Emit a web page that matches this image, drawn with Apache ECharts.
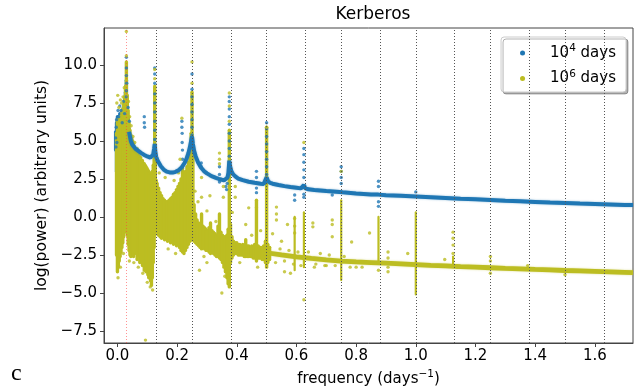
<!DOCTYPE html>
<html>
<head>
<meta charset="utf-8">
<script src="https://cdn.jsdelivr.net/npm/echarts@6/dist/echarts.min.js"></script>
<style>
  html, body { margin: 0; padding: 0; background: #fff; }
  #chart { width: 635px; height: 391px; }
</style>
</head>
<body>
<div id="chart"></div>
<script>
// Periodogram of the Kerberos orbit: log power versus frequency for two integration spans.

const xTicks = [0.0, 0.2, 0.4, 0.6, 0.8, 1.0, 1.2, 1.4, 1.6];
const yTicks = [-7.5, -5.0, -2.5, 0.0, 2.5, 5.0, 7.5, 10.0];
const harmonicLines = [0.125, 0.25, 0.375, 0.5, 0.625, 0.75, 0.875, 1.0, 1.125, 1.25, 1.375, 1.5, 1.625];
const referenceLine = [0.0303];

const seriesNames = ['10^4 days', '10^6 days'];

// 10^4 days: spread of the dense low-frequency cloud [freq, low, high]
const shortSpread = [
  [-0.006, 4.4, 5.6], [-0.003, 3.0, 6.2], [0.000, 0.5, 6.6], [0.004, 0.5, 6.4],
  [0.008, 0.8, 6.8], [0.012, 1.0, 6.6], [0.016, 1.2, 7.0], [0.020, 1.4, 7.2],
  [0.024, 1.6, 7.6], [0.027, 1.8, 8.2], [0.030, 1.8, 9.0], [0.033, 1.6, 7.6],
  [0.036, 1.8, 6.6], [0.039, 2.0, 5.8]
];

// 10^4 days: continuum of the spectrum [freq, log power]
const shortContinuum = [
  [0.039, 5.6], [0.045, 5.0], [0.050, 4.75], [0.060, 4.5], [0.070, 4.35], [0.080, 4.2],
  [0.090, 4.08], [0.100, 3.98], [0.110, 3.9], [0.116, 3.9], [0.120, 4.1], [0.123, 4.5],
  [0.125, 4.8], [0.127, 4.3], [0.130, 3.95], [0.135, 3.7], [0.145, 3.35],
  [0.155, 3.12], [0.165, 2.98], [0.175, 2.93], [0.185, 2.92], [0.195, 2.97], [0.205, 3.08],
  [0.215, 3.25], [0.225, 3.55], [0.232, 3.85], [0.238, 4.2], [0.243, 4.6], [0.247, 5.0],
  [0.250, 5.3], [0.253, 4.8], [0.257, 4.35], [0.262, 4.0], [0.270, 3.6],
  [0.280, 3.25], [0.290, 3.02], [0.300, 2.87], [0.310, 2.75], [0.320, 2.65], [0.330, 2.57],
  [0.340, 2.5], [0.350, 2.45], [0.358, 2.42], [0.364, 2.45], [0.369, 2.6], [0.372, 2.9],
  [0.375, 3.7], [0.378, 3.3], [0.382, 3.0], [0.388, 2.8],
  [0.395, 2.67], [0.405, 2.53], [0.420, 2.42], [0.440, 2.32], [0.460, 2.25], [0.480, 2.19],
  [0.490, 2.17], [0.495, 2.22], [0.500, 2.6], [0.505, 2.35],
  [0.512, 2.25], [0.520, 2.19], [0.540, 2.1], [0.560, 2.03], [0.580, 1.97], [0.600, 1.92],
  [0.615, 1.88], [0.621, 1.92], [0.625, 2.1], [0.629, 1.9], [0.640, 1.82], [0.660, 1.78],
  [0.700, 1.71], [0.745, 1.64], [0.750, 1.7], [0.755, 1.62], [0.800, 1.55], [0.850, 1.48],
  [0.875, 1.47], [0.900, 1.43], [0.950, 1.39], [1.000, 1.35], [1.050, 1.3], [1.100, 1.25],
  [1.150, 1.2], [1.200, 1.16], [1.250, 1.12], [1.300, 1.07], [1.350, 1.03], [1.400, 0.99],
  [1.450, 0.95], [1.500, 0.92], [1.550, 0.88], [1.600, 0.85], [1.650, 0.82], [1.700, 0.79],
  [1.728, 0.78]
];

// 10^4 days: individual samples (peaks, spurs, outliers)
const shortPoints = [
  [0.030, 10.5], [0.030, 9.8], [0.030, 9.3], [0.031, 8.8], [0.030, 8.3], [0.029, 7.9],
  [-0.006, 5.2], [-0.005, 4.6], [-0.004, 5.9], [-0.003, 6.4], [-0.002, 4.9], [0.002, 7.0],
  [0.004, 6.6], [0.008, 7.3], [0.012, 7.0], [0.016, 6.2], [0.020, 7.6], [0.024, 6.8],
  [0.036, 7.2], [0.040, 6.3],
  [0.090, 6.6], [0.090, 6.2], [0.091, 5.9],
  [0.125, 9.8], [0.125, 9.4], [0.125, 8.8], [0.125, 8.1], [0.125, 7.5], [0.125, 6.9],
  [0.125, 6.3], [0.125, 5.7], [0.125, 5.1],
  [0.216, 6.3], [0.216, 5.9], [0.217, 5.5], [0.217, 4.9], [0.218, 4.4], [0.218, 3.8],
  [0.250, 9.4], [0.250, 8.4], [0.250, 7.9], [0.250, 7.4], [0.250, 6.9], [0.250, 6.4],
  [0.250, 5.9], [0.250, 5.4],
  [0.281, 3.55], [0.281, 3.3],
  [0.342, 3.3], [0.342, 2.8], [0.342, 2.3],
  [0.363, 2.0], [0.366, 1.8], [0.368, 2.2],
  [0.375, 7.9], [0.375, 7.6], [0.375, 7.1], [0.375, 6.6], [0.375, 6.1], [0.375, 5.5],
  [0.375, 5.0], [0.375, 4.5], [0.375, 4.0],
  [0.466, 3.0], [0.466, 2.6], [0.466, 1.9], [0.466, 1.6],
  [0.500, 6.2], [0.500, 5.8], [0.500, 5.3], [0.500, 4.8], [0.500, 4.3], [0.500, 3.8],
  [0.500, 3.3], [0.500, 2.8],
  [0.594, 1.45], [0.594, 1.1],
  [0.625, 4.5], [0.625, 4.1], [0.625, 3.6], [0.625, 3.1], [0.625, 2.6], [0.625, 1.5], [0.625, 1.3],
  [0.720, 1.45],
  [0.750, 3.3], [0.750, 3.0], [0.750, 2.6], [0.750, 2.2],
  [0.875, 2.35], [0.875, 2.0], [0.875, 1.0], [0.875, 0.7],
  [1.000, 1.65]
];

// 10^6 days: spread of the noisy samples [freq, low, high]
const longSpread = [
  [-0.003, -2.5, 5.5], [0.000, -3.6, 6.4], [0.003, -3.3, 6.0], [0.006, -2.9, 6.3],
  [0.009, -2.6, 6.6], [0.012, -2.3, 6.4], [0.015, -2.0, 6.9], [0.018, -1.7, 7.1],
  [0.021, -1.3, 7.4], [0.024, -1.0, 7.9], [0.027, -0.8, 8.6], [0.030, -0.9, 10.2],
  [0.033, -1.2, 8.0], [0.036, -1.8, 7.0], [0.039, -2.2, 6.2], [0.042, -2.5, 5.7],
  [0.045, -2.6, 5.4], [0.048, -2.4, 5.2], [0.051, -2.2, 5.0], [0.054, -2.6, 4.8],
  [0.057, -2.3, 4.6], [0.060, -2.0, 4.5], [0.063, -2.4, 4.3], [0.066, -2.8, 4.3],
  [0.069, -2.2, 4.1], [0.072, -2.5, 4.0], [0.075, -3.0, 3.9], [0.078, -2.6, 3.9],
  [0.081, -2.8, 3.7], [0.084, -3.2, 3.7], [0.087, -3.0, 3.5], [0.090, -3.5, 3.5],
  [0.093, -3.2, 3.4], [0.096, -3.6, 3.3], [0.099, -3.3, 3.2], [0.102, -3.8, 3.1],
  [0.105, -4.0, 3.0], [0.108, -3.6, 2.9], [0.111, -4.2, 2.8], [0.114, -4.5, 2.8],
  [0.117, -4.0, 3.0], [0.120, -3.0, 3.4], [0.123, -2.0, 4.2], [0.125, -1.2, 8.6],
  [0.127, -0.8, 3.5], [0.130, -0.6, 2.4], [0.133, -1.0, 2.2], [0.138, -1.2, 1.9],
  [0.143, -1.3, 1.6], [0.148, -1.4, 1.4], [0.153, -1.3, 1.2], [0.158, -1.5, 1.1],
  [0.163, -1.4, 1.0], [0.168, -1.6, 1.0], [0.173, -1.5, 1.1], [0.178, -1.7, 1.2],
  [0.183, -1.6, 1.3], [0.188, -1.8, 1.5], [0.193, -1.7, 1.6], [0.198, -1.9, 1.8],
  [0.203, -1.8, 2.0], [0.208, -2.0, 2.2], [0.213, -2.2, 2.5], [0.218, -2.3, 3.2],
  [0.223, -2.4, 2.8], [0.228, -2.2, 3.0], [0.233, -2.0, 3.3], [0.238, -1.8, 3.6],
  [0.243, -1.6, 4.2], [0.247, -1.5, 5.5], [0.250, -1.5, 8.2], [0.253, -1.4, 4.5],
  [0.257, -1.6, 0.8], [0.262, -1.7, 0.2], [0.267, -1.8, -0.2], [0.272, -1.9, -0.4],
  [0.277, -2.0, -0.5], [0.282, -2.1, 0.2], [0.287, -2.0, -0.6], [0.292, -2.1, -0.7],
  [0.297, -2.2, -0.8], [0.302, -2.2, -0.9], [0.307, -2.3, -0.7], [0.312, -2.4, -0.4],
  [0.317, -2.3, -0.9], [0.322, -2.4, -1.0], [0.327, -2.5, -1.1], [0.332, -2.6, -1.2],
  [0.337, -2.6, -0.6], [0.342, -2.7, 0.2], [0.347, -2.8, -1.0], [0.352, -3.0, -1.2],
  [0.357, -3.3, -1.3], [0.362, -3.6, -1.3], [0.367, -4.0, -1.2], [0.371, -4.4, -0.8],
  [0.375, -4.6, 5.7], [0.379, -3.0, -0.5], [0.384, -2.7, -1.3], [0.389, -2.5, -1.6],
  [0.394, -2.4, -1.7], [0.400, -2.4, -1.7], [0.405, -2.5, -1.8], [0.410, -2.5, -1.8],
  [0.415, -2.5, -1.9], [0.420, -2.5, -1.8], [0.425, -2.6, -1.9], [0.430, -2.6, -1.5],
  [0.435, -2.6, -1.9], [0.440, -2.6, -1.9], [0.445, -2.6, -2.0], [0.450, -2.6, -1.9],
  [0.455, -2.7, -2.0], [0.460, -2.7, -1.8], [0.466, -2.9, 1.1], [0.472, -2.7, -1.9],
  [0.476, -2.7, -2.0], [0.480, -2.7, -2.0], [0.485, -2.8, -2.0], [0.490, -2.8, -1.9],
  [0.496, -3.0, -1.6], [0.500, -3.3, 5.9], [0.504, -3.0, -1.8], [0.510, -2.8, -2.0]
];

// 10^6 days: narrow columns of samples at isolated frequencies [freq, low, high]
const longColumns = [
  [0.594, -3.5, 0.0], [0.625, -3.3, 0.3], [0.750, -4.15, 1.1], [0.875, -3.0, 0.0],
  [1.000, -5.1, 0.3], [1.125, -3.3, -2.6]
];

// 10^6 days: continuum of the spectrum [freq, log power]
const longContinuum = [
  [0.505, -2.37], [0.550, -2.5], [0.600, -2.62], [0.650, -2.73], [0.700, -2.82],
  [0.750, -2.9], [0.800, -2.96], [0.850, -3.0], [0.900, -3.04], [0.950, -3.08],
  [1.000, -3.13], [1.050, -3.18], [1.100, -3.22], [1.150, -3.27], [1.200, -3.3],
  [1.250, -3.34], [1.300, -3.38], [1.350, -3.41], [1.400, -3.45], [1.450, -3.48],
  [1.500, -3.52], [1.550, -3.55], [1.600, -3.58], [1.650, -3.61], [1.700, -3.64],
  [1.728, -3.66]
];

// 10^6 days: individual samples (peaks, spurs, outliers)
const longPoints = [
  [0.030, 12.2], [0.030, 10.6],
  [-0.002, 7.5], [0.001, 8.0], [0.005, 7.2], [0.010, 7.7], [0.014, 7.5], [0.019, 7.9],
  [0.023, 8.5], [0.037, 7.6], [0.041, 6.6], [0.046, 6.0], [0.052, 5.3], [0.058, 4.9],
  [0.066, 4.5], [0.074, 4.0], [0.083, 3.7],
  [0.002, -4.0], [0.010, -3.3], [0.020, -2.4], [0.040, -2.9], [0.055, -3.0], [0.070, -3.3],
  [0.085, -3.7], [0.100, -4.3], [0.110, -4.6], [0.118, -4.8], [0.094, -8.1],
  [0.125, 9.7], [0.125, 9.1],
  [0.250, 10.2], [0.250, 8.8],
  [0.375, 8.15], [0.375, 7.3], [0.375, 6.3],
  [0.500, 5.9],
  [0.625, 4.9], [0.625, -5.45],
  [0.750, 3.0],
  [0.216, 6.5], [0.210, 3.8], [0.205, 2.9], [0.190, 2.4], [0.160, 2.6], [0.140, 2.9],
  [0.170, -2.1], [0.195, -2.4],
  [0.282, 2.6], [0.282, 1.3], [0.270, 1.0], [0.260, 1.7], [0.300, 0.4], [0.310, 1.4],
  [0.290, -2.6], [0.300, -3.0], [0.275, -3.5],
  [0.342, 4.2], [0.342, 3.8], [0.342, 3.5], [0.355, 1.3], [0.355, 2.0], [0.330, -0.3],
  [0.350, -5.0], [0.360, -3.9],
  [0.395, 2.0], [0.395, 1.3], [0.430, -0.5], [0.440, 0.6], [0.450, -1.2], [0.410, -3.0],
  [0.385, 0.3],
  [0.466, 0.6], [0.470, -3.3], [0.480, -0.9],
  [0.510, -2.0], [0.530, -3.0], [0.545, -2.1], [0.560, -2.9], [0.575, -2.2], [0.590, -3.1],
  [0.605, -2.3], [0.615, -3.2], [0.640, -2.3], [0.665, -3.1], [0.680, -2.4], [0.695, -3.2],
  [0.710, -2.5], [0.730, -3.2], [0.760, -2.6], [0.780, -3.3],
  [0.533, 0.65], [0.533, 0.2], [0.533, -0.2], [0.520, -1.1], [0.550, -1.6], [0.560, -3.6],
  [0.570, -0.5],
  [0.594, -0.1], [0.594, -0.6], [0.594, -1.05], [0.580, -3.7],
  [0.655, -0.4], [0.655, -0.65], [0.660, -3.3],
  [0.720, -0.2], [0.720, -0.5], [0.720, -1.3], [0.700, -3.2],
  [0.785, -1.65], [0.800, -3.3],
  [0.845, -1.05], [0.820, -3.3],
  [0.875, -3.5],
  [0.907, -2.3], [0.907, -2.7], [0.907, -3.3], [0.907, -3.6],
  [0.973, -2.4],
  [1.097, -2.8],
  [1.125, -1.0], [1.125, -1.4], [1.125, -1.85], [1.125, -2.4], [1.140, -3.3],
  [1.250, -2.6], [1.250, -2.9], [1.250, -3.7],
  [1.375, -3.2], [1.500, -3.8]
];

const BLUE = '#1f77b4';
const OLIVE = '#bcbd22';
const FONT = 'DejaVu Sans';

function spreadRenderer(color, width) {
  return function (params, api) {
    const hi = api.coord([api.value(0), api.value(2)]);
    const lo = api.coord([api.value(0), api.value(1)]);
    return {
      type: 'line',
      shape: { x1: hi[0], y1: hi[1], x2: lo[0], y2: lo[1] },
      style: { stroke: color, lineWidth: width, lineCap: 'round' }
    };
  };
}

const minusFmt = v => v.toFixed(1).replace('-', '\u2212');
const supRich = {
  b: { fontSize: 15, lineHeight: 20, fontFamily: FONT, color: '#000' },
  sup: { fontSize: 10.5, lineHeight: 12, verticalAlign: 'top', fontFamily: FONT, color: '#000' },
  gap: { width: 20 }
};

const chart = echarts.init(document.getElementById('chart'), null, { renderer: 'canvas' });

chart.setOption({
  backgroundColor: '#fff',
  animation: false,
  title: {
    text: 'Kerberos',
    left: 368,
    top: 1,
    textAlign: 'center',
    textStyle: { fontFamily: FONT, fontSize: 17, fontWeight: 'normal', color: '#000' }
  },
  grid: {
    left: 104, right: 2, top: 28, bottom: 48,
    show: true, borderColor: '#444', borderWidth: 1,
    outerBoundsMode: 'none'
  },
  legend: {
    data: [
      { name: seriesNames[0], itemStyle: { color: BLUE } },
      { name: seriesNames[1], itemStyle: { color: OLIVE } }
    ],
    orient: 'vertical',
    right: 9,
    top: 37,
    icon: 'circle',
    itemWidth: 5,
    itemHeight: 5,
    itemGap: 8,
    padding: [6, 10, 6, 19],
    backgroundColor: '#fff',
    borderColor: '#cccccc',
    borderWidth: 1,
    borderRadius: 3,
    shadowColor: 'rgba(0,0,0,0.3)',
    shadowOffsetX: 2,
    shadowOffsetY: 2,
    shadowBlur: 0,
    formatter: name => name === seriesNames[0]
      ? '{gap|}{b|10}{sup|4}{b| days}'
      : '{gap|}{b|10}{sup|6}{b| days}',
    textStyle: { fontFamily: FONT, fontSize: 15, color: '#000', rich: supRich }
  },
  graphic: [{
    type: 'text',
    left: 11,
    top: 362,
    style: { text: 'c', font: '24px "Liberation Serif"', fill: '#000' }
  }],
  xAxis: {
    type: 'value',
    min: -0.045,
    max: 1.728,
    name: 'frequency (days{sup|\u22121})',
    nameLocation: 'middle',
    nameGap: 23,
    nameTextStyle: {
      fontFamily: FONT, fontSize: 15, color: '#000', lineHeight: 20,
      rich: { sup: { fontSize: 10.5, lineHeight: 12, verticalAlign: 'top', fontFamily: FONT, color: '#000' } }
    },
    axisLine: { show: true, onZero: false, lineStyle: { color: '#444' } },
    axisTick: { show: true, length: 4, customValues: xTicks, lineStyle: { color: '#444' } },
    axisLabel: {
      customValues: xTicks, margin: 6, formatter: v => v.toFixed(1),
      fontFamily: FONT, fontSize: 15, color: '#000'
    },
    splitLine: { show: false }
  },
  yAxis: {
    type: 'value',
    min: -8.29,
    max: 12.43,
    name: 'log(power) (arbitrary units)',
    nameLocation: 'middle',
    nameGap: 49,
    nameTextStyle: { fontFamily: FONT, fontSize: 15.5, color: '#000' },
    axisLine: { show: true, onZero: false, lineStyle: { color: '#444' } },
    axisTick: { show: true, length: 4, customValues: yTicks, lineStyle: { color: '#444' } },
    axisLabel: {
      customValues: yTicks, margin: 7, formatter: minusFmt,
      fontFamily: FONT, fontSize: 15, color: '#000'
    },
    splitLine: { show: false }
  },
  series: [
    {
      // orbital-period harmonics and the reference frequency
      type: 'line',
      data: [],
      z: 1,
      silent: true,
      markLine: {
        silent: true,
        symbol: 'none',
        label: { show: false },
        animation: false,
        data: harmonicLines.map(f => ({ xAxis: f, lineStyle: { color: '#555', type: [1, 2], width: 1 } }))
          .concat(referenceLine.map(f => ({ xAxis: f, lineStyle: { color: 'rgba(255,60,60,0.55)', type: [1, 2], width: 1 } })))
      }
    },
    {
      type: 'custom',
      name: seriesNames[0],
      renderItem: spreadRenderer(BLUE, 3.4),
      encode: { x: 0, y: [1, 2] },
      itemStyle: { color: BLUE },
      data: shortSpread,
      clip: true,
      silent: true
    },
    {
      type: 'line',
      name: seriesNames[0],
      data: shortContinuum,
      showSymbol: false,
      symbol: 'none',
      clip: true,
      itemStyle: { color: BLUE },
      lineStyle: { color: BLUE, width: 4, shadowBlur: 2, shadowColor: 'rgba(31,119,180,0.5)' },
      silent: true
    },
    {
      type: 'scatter',
      name: seriesNames[0],
      data: shortPoints,
      symbolSize: 3.4,
      itemStyle: { color: BLUE },
      clip: true
    },
    {
      type: 'custom',
      name: seriesNames[1],
      renderItem: spreadRenderer(OLIVE, 3.4),
      encode: { x: 0, y: [1, 2] },
      itemStyle: { color: OLIVE },
      data: longSpread,
      clip: true,
      silent: true
    },
    {
      type: 'custom',
      name: seriesNames[1],
      renderItem: spreadRenderer(OLIVE, 2.2),
      encode: { x: 0, y: [1, 2] },
      itemStyle: { color: OLIVE },
      data: longColumns,
      clip: true,
      silent: true
    },
    {
      type: 'line',
      name: seriesNames[1],
      data: longContinuum,
      showSymbol: false,
      symbol: 'none',
      clip: true,
      itemStyle: { color: OLIVE },
      lineStyle: { color: OLIVE, width: 4.8, shadowBlur: 2, shadowColor: 'rgba(188,189,34,0.5)' },
      silent: true
    },
    {
      type: 'scatter',
      name: seriesNames[1],
      data: longPoints,
      symbolSize: 3.4,
      itemStyle: { color: OLIVE },
      clip: true
    }
  ]
});
</script>
</body>
</html>
